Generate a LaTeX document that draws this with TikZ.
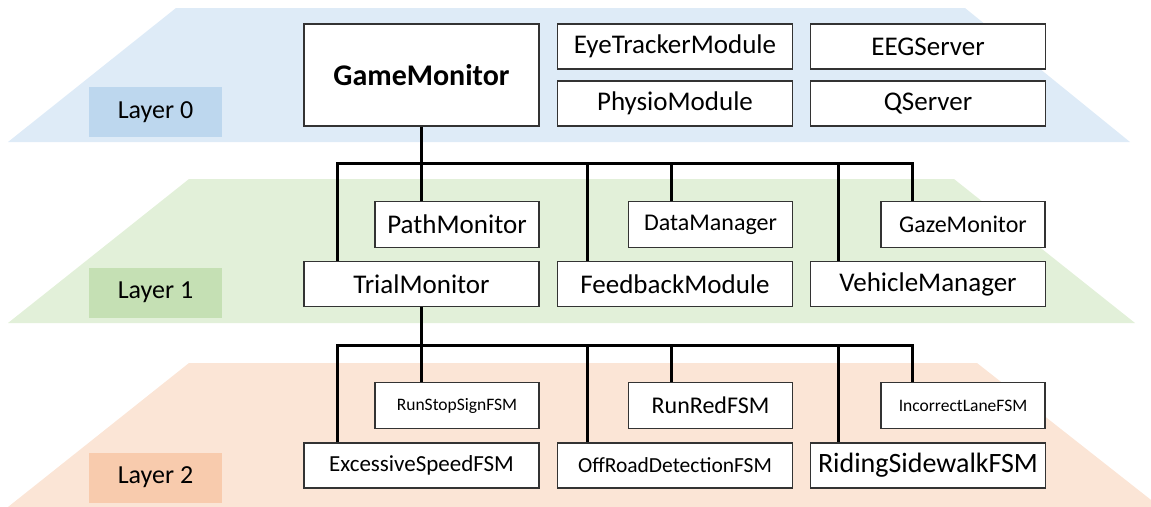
\documentclass[tikz,border=0pt]{standalone}
\usepackage{fontspec}
\setmainfont{Carlito}
\definecolor{bandA}{HTML}{DEEBF7}
\definecolor{labA}{HTML}{BDD7EE}
\definecolor{bandB}{HTML}{E2F0D9}
\definecolor{labB}{HTML}{C5E0B4}
\definecolor{bandC}{HTML}{FBE5D6}
\definecolor{labC}{HTML}{F8CBAD}
\newcommand{\fs}[1]{\fontsize{#1}{#1}\selectfont}
\tikzset{
  modbox/.style={draw=black!80, fill=white, line width=1.2pt, inner sep=0pt, align=center},
  bigbox/.style={modbox, minimum width=235pt, minimum height=45pt},
  smallbox/.style={modbox, minimum width=164pt, minimum height=46pt},
  laybox/.style={inner sep=0pt, minimum width=133pt, minimum height=50pt, font=\fs{26}},
  bus/.style={line width=3pt, black, line join=miter},
}
\begin{document}
\begin{tikzpicture}[x=1pt,y=-1pt]
\useasboundingbox (0,0) rectangle (1151,506);
\begin{scope}
\clip (0,0) rectangle (1151,506);
% bands
\fill[bandA] (176,8) -- (965,8) -- (1130,142) -- (8,142) -- cycle;
\fill[bandB] (189,179) -- (954,179) -- (1135,323) -- (8,323) -- cycle;
\fill[bandC] (189,363) -- (977,363) -- (1160,507) -- (8,507) -- cycle;
\end{scope}
% layer labels
\node[laybox, fill=labA] (l0) at (155.5,112) {Layer 0};
\node[laybox, fill=labB] (l1) at (155.5,292.5) {Layer 1};
\node[laybox, fill=labC] (l2) at (155.5,477.5) {Layer 2};
% layer 0
\node[modbox, minimum width=235pt, minimum height=102pt, font=\bfseries\fs{30}] (gm) at (421.5,75) {GameMonitor};
\node[bigbox, font=\fs{27}] (eye) at (675,46.5) {EyeTrackerModule};
\node[bigbox, font=\fs{27}] (phy) at (675,103.5) {PhysioModule};
\node[bigbox, font=\fs{27}] (eeg) at (928,46.5) {EEGServer};
\node[bigbox, font=\fs{27}] (qs) at (928,103.5) {QServer};
% layer 1
\node[smallbox, font=\fs{27}] (pm) at (457,224.5) {PathMonitor};
\node[smallbox, font=\fs{24}] (dm) at (710.5,224.5) {DataManager};
\node[smallbox, font=\fs{24}] (gz) at (963,224.5) {GazeMonitor};
\node[bigbox, font=\fs{27}] (tm) at (421.5,284) {TrialMonitor};
\node[bigbox, font=\fs{27}] (fb) at (675,284) {FeedbackModule};
\node[bigbox, font=\fs{27}] (vm) at (928,284) {VehicleManager};
% layer 2
\node[smallbox, font=\fs{17.5}] (rss) at (457,405.5) {RunStopSignFSM};
\node[smallbox, font=\fs{24}] (rr) at (710.5,405.5) {RunRedFSM};
\node[smallbox, font=\fs{17.5}] (il) at (963,405.5) {IncorrectLaneFSM};
\node[bigbox, font=\fs{23}] (es) at (421.5,465.5) {ExcessiveSpeedFSM};
\node[bigbox, font=\fs{21.5}] (or) at (675,465.5) {OffRoadDetectionFSM};
\node[bigbox, font=\fs{28}] (rs) at (928,465.5) {RidingSidewalkFSM};
% bus 1
\coordinate (b1a) at (337,163);
\coordinate (b1b) at (587,163);
\coordinate (b1c) at (671,163);
\coordinate (b1d) at (838,163);
\coordinate (b1e) at (912,163);
\draw[bus] (gm.south) -- (gm.south |- pm.north);
\draw[bus] (b1a |- tm.north) -- (b1a) -- (b1e) -- (b1e |- gz.north);
\draw[bus] (b1b) -- (b1b |- fb.north);
\draw[bus] (b1c) -- (b1c |- dm.north);
\draw[bus] (b1d) -- (b1d |- vm.north);
% bus 2
\coordinate (b2a) at (337,345);
\coordinate (b2b) at (587,345);
\coordinate (b2c) at (671,345);
\coordinate (b2d) at (838,345);
\coordinate (b2e) at (912,345);
\draw[bus] (tm.south) -- (tm.south |- rss.north);
\draw[bus] (b2a |- es.north) -- (b2a) -- (b2e) -- (b2e |- il.north);
\draw[bus] (b2b) -- (b2b |- or.north);
\draw[bus] (b2c) -- (b2c |- rr.north);
\draw[bus] (b2d) -- (b2d |- rs.north);
\end{tikzpicture}
\end{document}
